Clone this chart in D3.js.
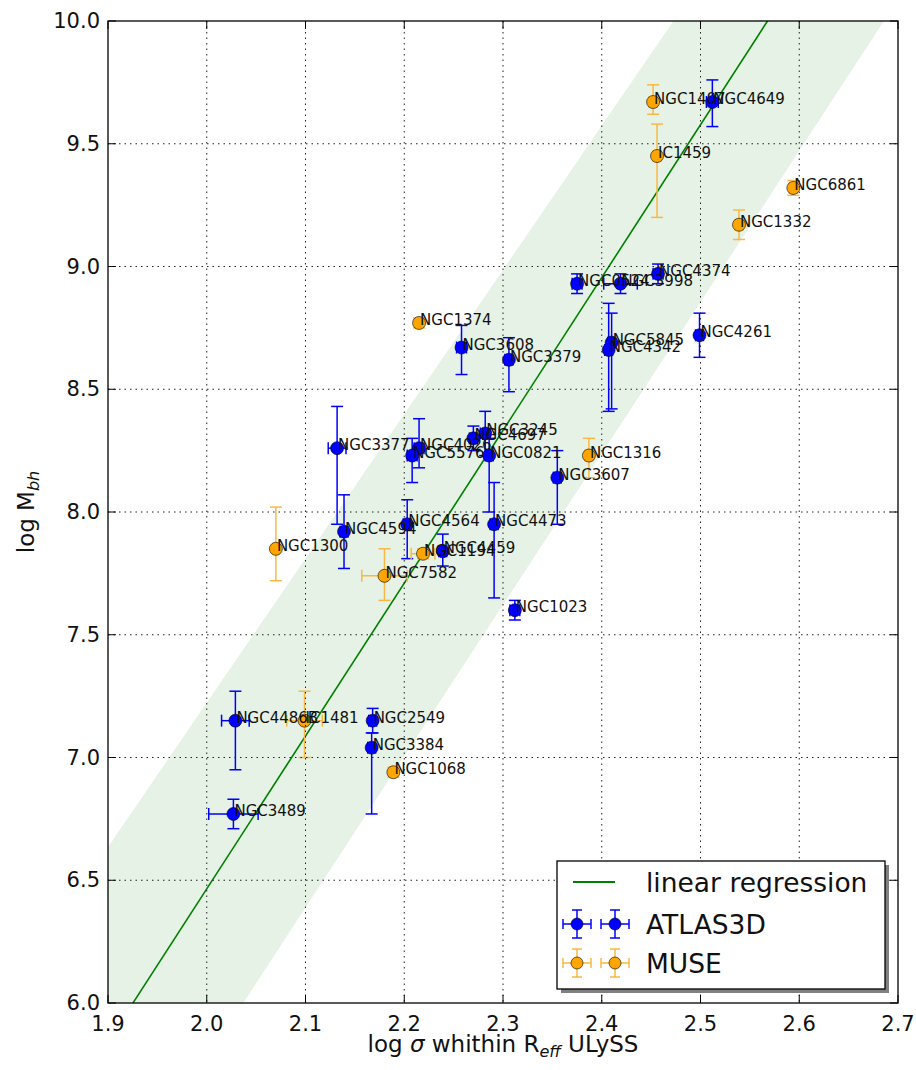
<!DOCTYPE html>
<html>
<head>
<meta charset="utf-8">
<script src="https://cdn.jsdelivr.net/npm/d3@7"></script>
<style>
  body { margin: 0; background: #fff; }
  text { font-family: "DejaVu Sans", sans-serif; fill: #111; }
</style>
</head>
<body>
<svg id="chart" width="916" height="1070"></svg>
<script>
// ATLAS3D sample
const atlasNames = ['NGC4649','NGC0524','NGC3998','NGC4374','NGC5845','NGC4342','NGC4261','NGC3608',
  'NGC3379','NGC3245','NGC4697','NGC0821','NGC4026','NGC5576','NGC3377','NGC4594','NGC4564',
  'NGC4459','NGC4473','NGC3607','NGC1023','NGC4486B','NGC2549','NGC3384','NGC3489']
const atlasSigma = [2.512,2.375,2.419,2.457,2.410,2.407,2.499,2.258,2.306,2.282,2.270,2.286,2.215,
  2.208,2.132,2.139,2.203,2.239,2.291,2.355,2.312,2.029,2.168,2.167,2.027]
const atlasSigmaErr = [0.006,0.005,0.017,0.005,0.004,0.004,0.004,0.005,0.004,0.005,0.004,0.004,0.005,
  0.005,0.009,0.004,0.004,0.004,0.004,0.004,0.005,0.014,0.004,0.004,0.025]
const atlasMbh = [9.67,8.93,8.93,8.97,8.69,8.66,8.72,8.67,8.62,8.32,8.30,8.23,8.26,8.23,8.26,7.92,
  7.95,7.84,7.95,8.14,7.60,7.15,7.15,7.04,6.77]
const atlasErrLo = [0.10,0.04,0.04,0.04,0.27,0.25,0.09,0.11,0.13,0.09,0.05,0.23,0.08,0.11,0.31,0.15,
  0.14,0.06,0.30,0.19,0.04,0.20,0.05,0.27,0.06]
const atlasErrHi = [0.09,0.04,0.04,0.04,0.12,0.19,0.09,0.09,0.09,0.09,0.05,0.07,0.12,0.07,0.17,0.15,
  0.10,0.07,0.17,0.11,0.04,0.12,0.05,0.06,0.06]

// MUSE sample
const museNames = ['NGC1407','IC1459','NGC6861','NGC1332','NGC1374','NGC1316','NGC1300','NGC1194',
  'NGC7582','IC1481','NGC1068']
const museSigma = [2.452,2.456,2.594,2.539,2.215,2.387,2.070,2.219,2.180,2.099,2.189]
const museSigmaErr = [0.004,0.004,0.004,0.004,0.003,0.004,0.003,0.012,0.023,0.018,0.003]
const museMbh = [9.67,9.45,9.32,9.17,8.77,8.23,7.85,7.83,7.74,7.15,6.94]
const museErrLo = [0.05,0.25,0.03,0.06,0.02,0.09,0.13,0.02,0.10,0.15,0.02]
const museErrHi = [0.07,0.13,0.03,0.06,0.02,0.07,0.17,0.02,0.11,0.12,0.02]

// fit: [slope, intercept] in log M = a * log sigma + b
const regCoef = [6.225, -5.985]
const bandUpper = [5.877, -4.531]
const bandLower = [6.166, -6.560]

const xTicks = [1.9, 2.0, 2.1, 2.2, 2.3, 2.4, 2.5, 2.6, 2.7]
const yTicks = [6.0, 6.5, 7.0, 7.5, 8.0, 8.5, 9.0, 9.5, 10.0]
const legendLabels = ['linear regression', 'ATLAS3D', 'MUSE']

const pLeft = 108, pRight = 898, pTop = 21, pBottom = 1003
const blue = '#0000ff', orange = '#ffa500', orangeErr = '#f7b944', green = '#008000'

const svg = d3.select('#chart')
const x = d3.scaleLinear().domain([1.9, 2.7]).range([pLeft, pRight])
const y = d3.scaleLinear().domain([6.0, 10.0]).range([pBottom, pTop])

svg.append('clipPath').attr('id', 'plotclip')
  .append('rect').attr('x', pLeft).attr('y', pTop).attr('width', pRight - pLeft).attr('height', pBottom - pTop)

const plot = svg.append('g').attr('clip-path', 'url(#plotclip)')

// shaded band
const xs = x.domain()
const bandPts = [
  [xs[0], bandUpper[0] * xs[0] + bandUpper[1]],
  [xs[1], bandUpper[0] * xs[1] + bandUpper[1]],
  [xs[1], bandLower[0] * xs[1] + bandLower[1]],
  [xs[0], bandLower[0] * xs[0] + bandLower[1]]
]
plot.append('path')
  .attr('d', d3.line().x(d => x(d[0])).y(d => y(d[1]))(bandPts) + 'Z')
  .attr('fill', green).attr('fill-opacity', 0.1)

// grid
svg.append('g').selectAll('line').data(xTicks.slice(1, -1)).enter().append('line')
  .attr('x1', d => x(d)).attr('x2', d => x(d)).attr('y1', pTop).attr('y2', pBottom)
  .attr('stroke', '#222').attr('stroke-width', 1).attr('stroke-dasharray', '1.5,4')
svg.append('g').selectAll('line').data(yTicks.slice(1, -1)).enter().append('line')
  .attr('y1', d => y(d)).attr('y2', d => y(d)).attr('x1', pLeft).attr('x2', pRight)
  .attr('stroke', '#222').attr('stroke-width', 1).attr('stroke-dasharray', '1.5,4')

// regression line
plot.append('path')
  .attr('d', d3.line().x(d => x(d)).y(d => y(regCoef[0] * d + regCoef[1]))(xs))
  .attr('stroke', green).attr('stroke-width', 1.6).attr('fill', 'none')

function errorbars(g, sig, sigErr, mbh, lo, hi, color, width) {
  const cap = 6
  sig.forEach((s, i) => {
    const cx = x(s), cy = y(mbh[i])
    const y1 = y(mbh[i] + hi[i]), y2 = y(mbh[i] - lo[i])
    const x1 = x(s - sigErr[i]), x2 = x(s + sigErr[i])
    const e = g.append('g').attr('stroke', color).attr('stroke-width', width)
    e.append('line').attr('x1', cx).attr('x2', cx).attr('y1', y1).attr('y2', y2)
    e.append('line').attr('x1', cx - cap).attr('x2', cx + cap).attr('y1', y1).attr('y2', y1)
    e.append('line').attr('x1', cx - cap).attr('x2', cx + cap).attr('y1', y2).attr('y2', y2)
    e.append('line').attr('x1', x1).attr('x2', x2).attr('y1', cy).attr('y2', cy)
    e.append('line').attr('x1', x1).attr('x2', x1).attr('y1', cy - cap).attr('y2', cy + cap)
    e.append('line').attr('x1', x2).attr('x2', x2).attr('y1', cy - cap).attr('y2', cy + cap)
  })
}

const marks = plot.append('g')
errorbars(marks, atlasSigma, atlasSigmaErr, atlasMbh, atlasErrLo, atlasErrHi, blue, 1.5)
marks.selectAll('circle.atlas').data(atlasSigma).enter().append('circle')
  .attr('class', 'atlas')
  .attr('cx', d => x(d)).attr('cy', (d, i) => y(atlasMbh[i])).attr('r', 6.5)
  .attr('fill', blue).attr('stroke', '#000').attr('stroke-width', 0.6)
errorbars(marks, museSigma, museSigmaErr, museMbh, museErrLo, museErrHi, orangeErr, 1.5)
marks.selectAll('circle.muse').data(museSigma).enter().append('circle')
  .attr('class', 'muse')
  .attr('cx', d => x(d)).attr('cy', (d, i) => y(museMbh[i])).attr('r', 6.5)
  .attr('fill', orange).attr('stroke', '#000').attr('stroke-width', 0.6)

// point labels
const labels = svg.append('g').attr('font-size', 15)
labels.selectAll('text.a').data(atlasNames).enter().append('text')
  .attr('x', (d, i) => x(atlasSigma[i]) + 1).attr('y', (d, i) => y(atlasMbh[i]) + 2).text(d => d)
labels.selectAll('text.m').data(museNames).enter().append('text')
  .attr('x', (d, i) => x(museSigma[i]) + 1).attr('y', (d, i) => y(museMbh[i]) + 2).text(d => d)

// frame and ticks
svg.append('rect').attr('x', pLeft).attr('y', pTop).attr('width', pRight - pLeft).attr('height', pBottom - pTop)
  .attr('fill', 'none').attr('stroke', '#000').attr('stroke-width', 1.3)
const tickLen = 8
const tk = svg.append('g').attr('stroke', '#000').attr('stroke-width', 1)
xTicks.forEach(t => {
  tk.append('line').attr('x1', x(t)).attr('x2', x(t)).attr('y1', pBottom).attr('y2', pBottom - tickLen)
  tk.append('line').attr('x1', x(t)).attr('x2', x(t)).attr('y1', pTop).attr('y2', pTop + tickLen)
})
yTicks.forEach(t => {
  tk.append('line').attr('y1', y(t)).attr('y2', y(t)).attr('x1', pLeft).attr('x2', pLeft + tickLen)
  tk.append('line').attr('y1', y(t)).attr('y2', y(t)).attr('x1', pRight).attr('x2', pRight - tickLen)
})

svg.append('g').selectAll('text').data(xTicks).enter().append('text')
  .attr('x', d => x(d)).attr('y', pBottom + 28).attr('text-anchor', 'middle')
  .attr('font-size', 21).text(d => d.toFixed(1))
svg.append('g').selectAll('text').data(yTicks).enter().append('text')
  .attr('x', pLeft - 8).attr('y', d => y(d) + 7).attr('text-anchor', 'end')
  .attr('font-size', 21).text(d => d.toFixed(1))

// axis titles
const xt = svg.append('text').attr('x', (pLeft + pRight) / 2).attr('y', 1052)
  .attr('text-anchor', 'middle').attr('font-size', 23)
xt.append('tspan').text('log ')
xt.append('tspan').attr('font-style', 'italic').text('σ')
xt.append('tspan').text(' whithin R')
xt.append('tspan').attr('font-size', 16).attr('font-style', 'italic').attr('dy', 5).text('eff')
xt.append('tspan').attr('dy', -5).text(' ULySS')

const yt = svg.append('text').attr('transform', `translate(34,${(pTop + pBottom) / 2}) rotate(-90)`)
  .attr('text-anchor', 'middle').attr('font-size', 23)
yt.append('tspan').text('log M')
yt.append('tspan').attr('font-size', 16).attr('font-style', 'italic').attr('dy', 5).text('bh')

// legend
const lg = svg.append('g')
const lx = 557, ly = 861, lw = 328, lh = 128
lg.append('rect').attr('x', lx + 4).attr('y', ly + 4).attr('width', lw).attr('height', lh).attr('fill', '#808080')
lg.append('rect').attr('x', lx).attr('y', ly).attr('width', lw).attr('height', lh)
  .attr('fill', '#fff').attr('stroke', '#000').attr('stroke-width', 1.3)
const rowY = [882, 924, 963]
lg.append('line').attr('x1', 573).attr('x2', 615).attr('y1', rowY[0]).attr('y2', rowY[0])
  .attr('stroke', green).attr('stroke-width', 2)
function legendMarker(cx, cy, fill, ecol) {
  const e = lg.append('g').attr('stroke', ecol).attr('stroke-width', 1.5)
  e.append('line').attr('x1', cx - 14).attr('x2', cx + 14).attr('y1', cy).attr('y2', cy)
  e.append('line').attr('x1', cx).attr('x2', cx).attr('y1', cy - 14).attr('y2', cy + 14)
  e.append('line').attr('x1', cx - 5).attr('x2', cx + 5).attr('y1', cy - 14).attr('y2', cy - 14)
  e.append('line').attr('x1', cx - 5).attr('x2', cx + 5).attr('y1', cy + 14).attr('y2', cy + 14)
  e.append('line').attr('x1', cx - 14).attr('x2', cx - 14).attr('y1', cy - 5).attr('y2', cy + 5)
  e.append('line').attr('x1', cx + 14).attr('x2', cx + 14).attr('y1', cy - 5).attr('y2', cy + 5)
  lg.append('circle').attr('cx', cx).attr('cy', cy).attr('r', 6)
    .attr('fill', fill).attr('stroke', '#000').attr('stroke-width', 0.6)
}
legendMarker(577, rowY[1], blue, blue); legendMarker(615, rowY[1], blue, blue)
legendMarker(577, rowY[2], orange, orangeErr); legendMarker(615, rowY[2], orange, orangeErr)
lg.selectAll('text').data(legendLabels).enter().append('text')
  .attr('x', 646).attr('y', (d, i) => rowY[i] + 10).attr('font-size', 26.5).text(d => d)
</script>
</body>
</html>
